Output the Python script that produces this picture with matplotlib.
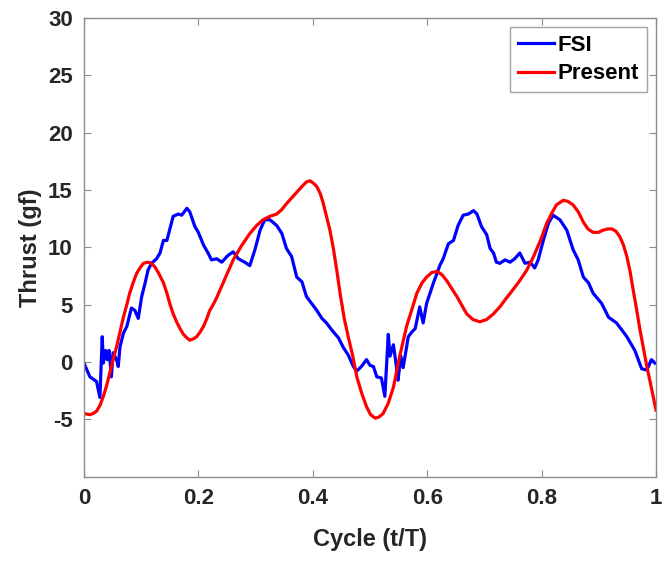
import numpy as np
import matplotlib
matplotlib.use('Agg')
import matplotlib.pyplot as plt
from matplotlib import rcParams

rcParams['font.family'] = 'Liberation Sans'
rcParams['font.weight'] = 'bold'
rcParams['font.size'] = 16
rcParams['axes.unicode_minus'] = False

# FSI thrust (blue)
fsi_t = [0.000, 0.0105, 0.022, 0.028, 0.032, 0.034, 0.038, 0.041, 0.044, 0.048,
         0.051, 0.057, 0.060, 0.063, 0.069, 0.075, 0.083, 0.089, 0.095, 0.101,
         0.107, 0.112, 0.118, 0.127, 0.133, 0.139, 0.145, 0.156, 0.165, 0.171,
         0.180, 0.185, 0.194, 0.200, 0.209, 0.217, 0.223, 0.232, 0.241, 0.252,
         0.261, 0.270, 0.281, 0.290, 0.299, 0.308, 0.316, 0.325, 0.337, 0.346,
         0.354, 0.363, 0.372, 0.381, 0.389, 0.398, 0.407, 0.416, 0.424, 0.433,
         0.445, 0.453, 0.462, 0.471, 0.477, 0.485, 0.494, 0.500, 0.506, 0.512,
         0.520, 0.526, 0.532, 0.535, 0.541, 0.547, 0.549, 0.554, 0.558, 0.563,
         0.567, 0.573, 0.579, 0.587, 0.593, 0.599, 0.605, 0.611, 0.617, 0.622,
         0.628, 0.637, 0.646, 0.654, 0.663, 0.672, 0.681, 0.687, 0.695, 0.704,
         0.710, 0.716, 0.721, 0.727, 0.736, 0.745, 0.753, 0.762, 0.771, 0.780,
         0.788, 0.794, 0.803, 0.812, 0.820, 0.832, 0.844, 0.855, 0.864, 0.873,
         0.882, 0.890, 0.905, 0.917, 0.931, 0.949, 0.963, 0.975, 0.984, 0.992,
         0.998]
fsi_thrust = [-0.1, -1.3, -1.7, -3.1, 2.2, -0.1, 1.0, 0.2, 1.0, -1.3,
              0.8, 0.2, -0.4, 1.3, 2.5, 3.1, 4.7, 4.5, 3.8, 5.7,
              6.9, 8.0, 8.6, 9.0, 9.5, 10.6, 10.6, 12.7, 12.9, 12.8,
              13.4, 13.1, 11.8, 11.3, 10.2, 9.5, 8.9, 9.0, 8.7, 9.3,
              9.6, 9.0, 8.7, 8.4, 9.8, 11.5, 12.4, 12.4, 11.9, 11.2,
              9.9, 9.2, 7.4, 7.0, 5.7, 5.1, 4.5, 3.8, 3.4, 2.8,
              2.1, 1.3, 0.6, -0.4, -0.8, -0.4, 0.2, -0.3, -0.4, -1.3,
              -1.4, -3.0, 2.4, 0.5, 1.5, -0.7, -1.6, 0.5, -0.5, 1.0,
              2.2, 2.6, 2.9, 4.8, 3.4, 5.1, 6.0, 6.9, 7.7, 8.4,
              9.0, 10.3, 10.6, 11.9, 12.8, 12.9, 13.2, 12.9, 11.8, 11.1,
              9.9, 9.5, 8.7, 8.6, 8.9, 8.7, 9.0, 9.5, 8.6, 8.7,
              8.2, 8.9, 10.6, 12.1, 12.8, 12.4, 11.5, 9.8, 8.9, 7.4,
              6.9, 6.0, 5.1, 3.9, 3.4, 2.2, 1.0, -0.6, -0.7, 0.2,
              -0.1]

# Present model thrust (red)
pres_t = [0.000, 0.0105, 0.016, 0.022, 0.028, 0.034, 0.040, 0.045, 0.051, 0.057,
          0.063, 0.069, 0.075, 0.080, 0.086, 0.092, 0.098, 0.104, 0.112, 0.118,
          0.124, 0.131, 0.139, 0.145, 0.150, 0.156, 0.162, 0.168, 0.174, 0.180,
          0.185, 0.191, 0.197, 0.203, 0.209, 0.215, 0.220, 0.226, 0.232, 0.246,
          0.261, 0.275, 0.290, 0.302, 0.313, 0.325, 0.337, 0.346, 0.354, 0.363,
          0.372, 0.381, 0.389, 0.395, 0.401, 0.407, 0.413, 0.418, 0.424, 0.430,
          0.436, 0.442, 0.448, 0.455, 0.462, 0.470, 0.477, 0.486, 0.494, 0.501,
          0.509, 0.516, 0.523, 0.532, 0.541, 0.552, 0.564, 0.574, 0.582, 0.591,
          0.599, 0.608, 0.617, 0.626, 0.634, 0.643, 0.652, 0.661, 0.669, 0.680,
          0.692, 0.704, 0.716, 0.727, 0.739, 0.750, 0.762, 0.774, 0.786, 0.798,
          0.809, 0.818, 0.826, 0.838, 0.846, 0.855, 0.864, 0.873, 0.881, 0.890,
          0.899, 0.908, 0.916, 0.923, 0.930, 0.937, 0.943, 0.949, 0.955, 0.960,
          0.966, 0.972, 0.978, 0.984, 0.990, 0.995, 1.000]
pres_thrust = [-4.5, -4.6, -4.5, -4.3, -3.8, -3.0, -2.0, -1.0, 0.2, 1.3,
               2.6, 3.9, 5.0, 6.0, 6.9, 7.7, 8.2, 8.6, 8.7, 8.6,
               8.3, 7.7, 6.9, 6.0, 5.1, 4.2, 3.5, 2.9, 2.4, 2.1,
               1.9, 2.0, 2.2, 2.6, 3.1, 3.8, 4.5, 5.0, 5.6, 7.2,
               8.9, 10.1, 11.2, 11.9, 12.4, 12.7, 12.9, 13.3, 13.8, 14.3,
               14.8, 15.3, 15.7, 15.8, 15.6, 15.3, 14.7, 13.9, 12.7, 11.5,
               9.9, 8.0, 5.9, 3.8, 2.2, 0.5, -1.3, -2.8, -3.9, -4.6,
               -4.9, -4.8, -4.5, -3.6, -2.2, 0.5, 3.1, 4.7, 6.0, 6.9,
               7.4, 7.8, 7.9, 7.6, 7.1, 6.4, 5.7, 4.9, 4.2, 3.7,
               3.5, 3.7, 4.2, 4.8, 5.6, 6.3, 7.1, 8.0, 9.2, 10.6,
               12.1, 13.0, 13.7, 14.1, 14.0, 13.7, 13.1, 12.2, 11.6, 11.3,
               11.3, 11.5, 11.6, 11.6, 11.4, 10.9, 10.2, 9.2, 7.8, 6.3,
               4.6, 2.8, 1.2, -0.4, -1.8, -3.0, -4.2]

text_col = '#262626'
axis_col = '#8c8c8c'

fig = plt.figure(figsize=(6.66, 5.62), dpi=100)
ax = fig.add_axes([0.126, 0.152, 0.859, 0.816])

ax.plot(fsi_t, fsi_thrust, color='#0000ff', linewidth=2.3, label='FSI')
ax.plot(pres_t, pres_thrust, color='#ff0000', linewidth=2.3, label='Present')

ax.set_xlim(0, 1)
ax.set_ylim(-10, 30)
ax.set_xticks([0, 0.2, 0.4, 0.6, 0.8, 1])
ax.set_xticklabels(['0', '0.2', '0.4', '0.6', '0.8', '1'])
ax.set_yticks(np.arange(-5, 31, 5))

for s in ax.spines.values():
    s.set_color(axis_col)
    s.set_linewidth(1.0)
ax.tick_params(direction='in', length=5, width=0.8, color=axis_col,
               labelcolor=text_col, top=True, right=True, labelsize=16, pad=8)

ax.set_xlabel('Cycle (t/T)', fontsize=17, fontweight='bold', color=text_col, labelpad=14)
ax.set_ylabel('Thrust (gf)', fontsize=17, fontweight='bold', color=text_col, labelpad=4)

leg = ax.legend(loc='upper right', fontsize=16, frameon=True, fancybox=False,
                handlelength=1.6, handletextpad=0.2, borderpad=0.35,
                labelspacing=0.35, borderaxespad=0.4)
leg.get_frame().set_edgecolor(axis_col)
leg.get_frame().set_linewidth(1.0)
for t in leg.get_texts():
    t.set_color('black')

fig.savefig('out.png', dpi=100)
